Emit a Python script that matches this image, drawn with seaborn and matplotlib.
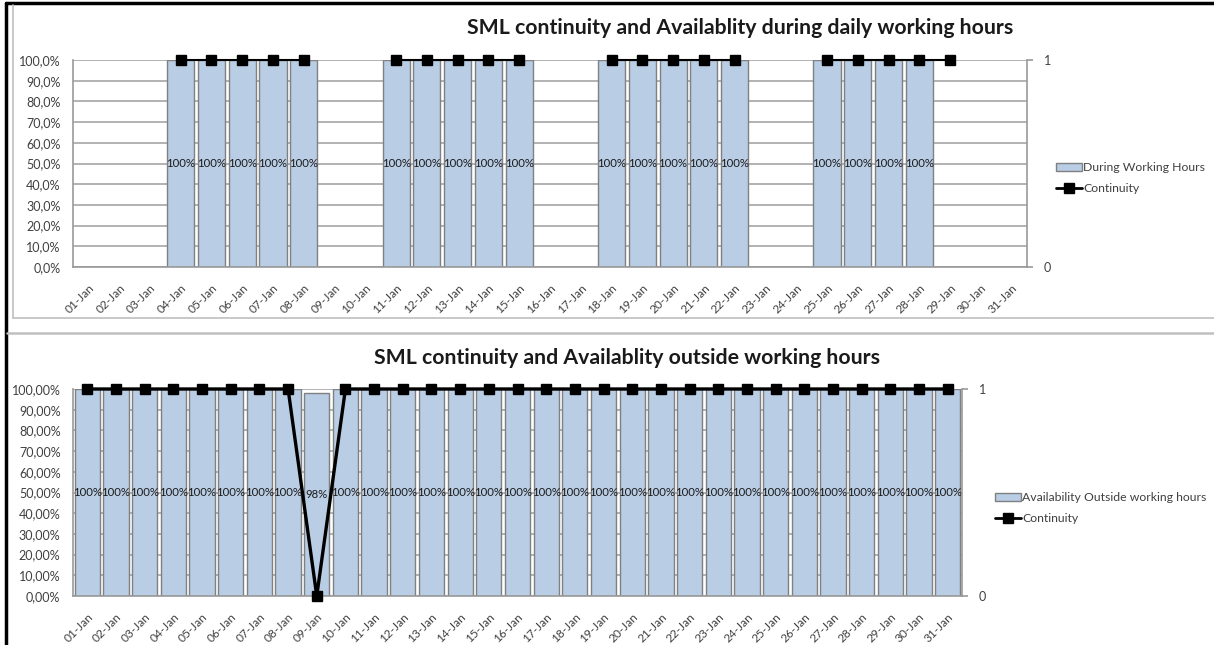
import numpy as np
import pandas as pd
import seaborn as sns
import matplotlib.pyplot as plt
from matplotlib.lines import Line2D
from matplotlib.patches import Patch
from matplotlib.ticker import FuncFormatter

nan = np.nan
days = ["01-Jan", "02-Jan", "03-Jan", "04-Jan", "05-Jan", "06-Jan", "07-Jan", "08-Jan",
        "09-Jan", "10-Jan", "11-Jan", "12-Jan", "13-Jan", "14-Jan", "15-Jan", "16-Jan",
        "17-Jan", "18-Jan", "19-Jan", "20-Jan", "21-Jan", "22-Jan", "23-Jan", "24-Jan",
        "25-Jan", "26-Jan", "27-Jan", "28-Jan", "29-Jan", "30-Jan", "31-Jan"]

during_working = [nan, nan, nan, 1, 1, 1, 1, 1, nan, nan, 1, 1, 1, 1, 1, nan,
                  nan, 1, 1, 1, 1, 1, nan, nan, 1, 1, 1, 1, nan, nan, nan]
continuity_working = [nan, nan, nan, 1, 1, 1, 1, 1, nan, nan, 1, 1, 1, 1, 1, nan,
                      nan, 1, 1, 1, 1, 1, nan, nan, 1, 1, 1, 1, 1, nan, nan]

outside_working = [1, 1, 1, 1, 1, 1, 1, 1, 0.98, 1, 1, 1, 1, 1, 1, 1,
                   1, 1, 1, 1, 1, 1, 1, 1, 1, 1, 1, 1, 1, 1, 1]
continuity_outside = [1, 1, 1, 1, 1, 1, 1, 1, 0, 1, 1, 1, 1, 1, 1, 1,
                      1, 1, 1, 1, 1, 1, 1, 1, 1, 1, 1, 1, 1, 1, 1]

title_top = "SML continuity and Availablity during daily working hours"
title_bottom = "SML continuity and Availablity outside working hours"
legend_top = ["During Working Hours", "Continuity"]
legend_bottom = ["Availability Outside working hours", "Continuity"]

sns.set_theme(style="white")
plt.rcParams['font.family'] = ['Lato', 'DejaVu Sans']

BAR = "#B9CDE5"
EDGE = "#808080"
GRID = "#a6a6a6"
TXT = "#404040"

W, H = 1214, 645
fig = plt.figure(figsize=(W / 100, H / 100), dpi=100)


def fx(px):
    return px / W


def fy(py):
    return 1 - py / H


def make_panel(rect, values, cont, decimals, lw_line, title, title_xy, leg_labels, leg_xy):
    ax = fig.add_axes(rect)
    df = pd.DataFrame({"day": days, "value": values})
    sns.barplot(data=df, x="day", y="value", order=days, color=BAR, saturation=1,
                edgecolor=EDGE, linewidth=1.0, width=0.88, errorbar=None, ax=ax, zorder=2)
    for c in ax.containers:
        ax.bar_label(c, fmt=lambda v: "" if np.isnan(v) else f"{v * 100:.0f}%",
                     label_type="center", fontsize=8.2, color="#1a1a1a")
    ax.set_xlim(-0.5, len(days) - 0.5)
    ax.set_ylim(0, 1)
    ax.set_yticks(np.linspace(0, 1, 11))
    ax.yaxis.set_major_formatter(FuncFormatter(
        lambda v, p: (f"{v * 100:.{decimals}f}%").replace(".", ",")))
    ax.set_axisbelow(True)
    ax.grid(axis="y", color=GRID, lw=1.2)
    ax.grid(axis="x", visible=False)
    ax.set_xlabel("")
    ax.set_ylabel("")
    ax.set_xticks(range(len(days)))
    ax.set_xticklabels(days, rotation=45, ha="right", rotation_mode="anchor")
    ax.tick_params(axis="x", labelsize=8.6, labelcolor=TXT, length=0, pad=11)
    ax.tick_params(axis="y", labelsize=9, labelcolor=TXT, length=0, pad=9)
    for s in ["top", "right"]:
        ax.spines[s].set_visible(False)
    for s in ["left", "bottom"]:
        ax.spines[s].set_color("#999999")
        ax.spines[s].set_linewidth(1.2)

    ax2 = ax.twinx()
    ax2.plot(np.arange(len(days)), cont, color="black", lw=lw_line, marker="s",
             markersize=7.5, markerfacecolor="black", markeredgecolor="black",
             clip_on=False, zorder=5)
    ax2.set_ylim(0, 1)
    ax2.set_yticks([0, 1])
    ax2.set_yticklabels(["0", "1"])
    ax2.tick_params(axis="y", labelsize=9, labelcolor=TXT, length=4, color="#999999",
                    width=1.2, pad=8, right=True)
    ax2.grid(False)
    for s in ["top", "left", "bottom"]:
        ax2.spines[s].set_visible(False)
    ax2.spines["right"].set_color("#999999")
    ax2.spines["right"].set_linewidth(1.2)

    fig.text(fx(title_xy[0]), fy(title_xy[1]), title, ha="center", va="center",
             fontsize=15.3, fontweight="bold", color="#1a1a1a")
    handles = [Patch(facecolor=BAR, edgecolor=EDGE, linewidth=1.0),
               Line2D([0], [0], color="black", lw=2, marker="s", markersize=7)]
    fig.legend(handles, leg_labels, loc="upper left",
               bbox_to_anchor=(fx(leg_xy[0]), fy(leg_xy[1])), frameon=False,
               fontsize=8.8, labelcolor=TXT, handlelength=2.1, handletextpad=0.1,
               labelspacing=0.8, borderaxespad=0, borderpad=0, handleheight=0.6)
    return ax, ax2


# top panel: plot area x 73..1027, y 60..267
make_panel([fx(73), fy(267), fx(1027 - 73), (267 - 60) / H], during_working,
           continuity_working, 1, 1.5, title_top, (740, 28), legend_top, (1056, 162))
# bottom panel: plot area x 73..962, y 389..596
make_panel([fx(73), fy(596), fx(962 - 73), (596 - 389) / H], outside_working,
           continuity_outside, 2, 2.4, title_bottom, (627, 358), legend_bottom, (995, 492))

# sheet / chart frames
fig.add_artist(Line2D([fx(6), fx(6)], [0, fy(3)], color="black", lw=2.5))
fig.add_artist(Line2D([fx(6), 1], [fy(3), fy(3)], color="black", lw=2.5))
fig.add_artist(Line2D([fx(13), fx(13)], [fy(318), fy(5)], color="#bfbfbf", lw=1.2))
fig.add_artist(Line2D([fx(13), 1], [fy(318), fy(318)], color="#bfbfbf", lw=1.2))
fig.add_artist(Line2D([fx(7), 1], [fy(333), fy(333)], color="#c0c0c0", lw=1.8))

fig.savefig("out.png", dpi=100, facecolor="white")
